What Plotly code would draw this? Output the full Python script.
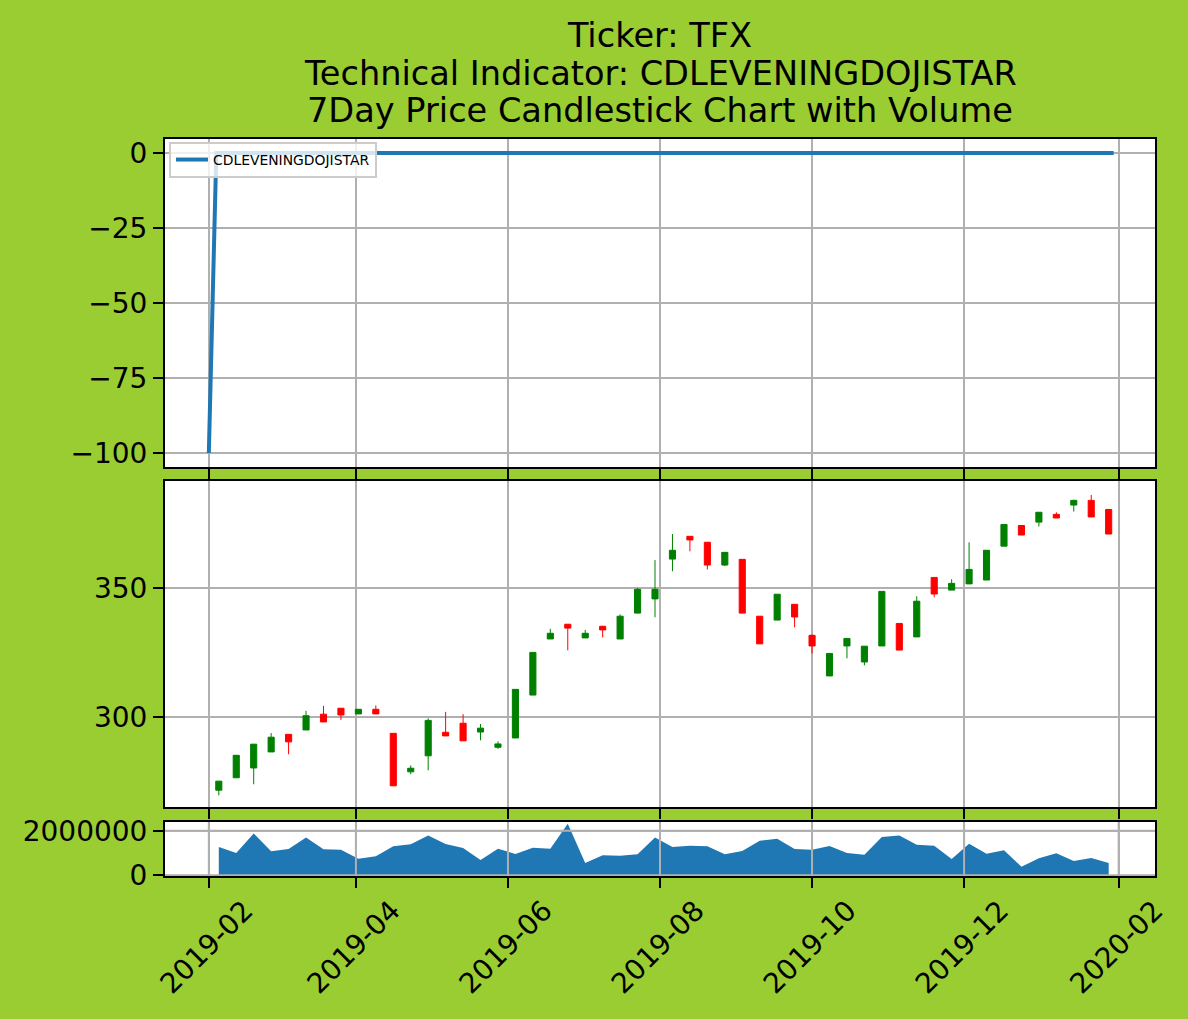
import plotly.graph_objects as go
from datetime import date, timedelta

TITLE_LINES = ["Ticker: TFX", "Technical Indicator: CDLEVENINGDOJISTAR", "7Day Price Candlestick Chart with Volume"]
INDICATOR_NAME = "CDLEVENINGDOJISTAR"

indicator_dates = ["2019-02-01", "2019-02-04", "2019-06-03", "2019-10-01", "2020-01-30"]
indicator_values = [-100, 0, 0, 0, 0]

opens = [271.8, 276.6, 280.4, 286.6, 293.4, 295.1, 301.2, 303.5, 301.3, 303.1, 293.8, 278.9, 285.1,
         294.2, 297.7, 294.3, 288.4, 292.0, 308.6, 330.3, 336.0, 330.7, 335.2, 330.3, 340.3, 345.8,
         361.2, 370.0, 367.7, 358.9, 361.1, 339.1, 337.6, 343.7, 331.7, 316.0, 327.6, 321.4, 327.6,
         336.3, 331.1, 354.1, 349.2, 351.6, 353.1, 366.2, 374.2, 375.5, 378.5, 382.1, 383.9, 380.4]
highs = [275.3, 285.3, 289.6, 293.9, 293.4, 302.5, 304.4, 303.5, 303.1, 304.6, 293.8, 281.4, 299.6,
         302.1, 301.2, 297.4, 290.7, 310.8, 325.1, 334.2, 336.0, 333.8, 335.4, 339.8, 350.0, 360.8,
         370.9, 370.0, 367.7, 363.8, 361.1, 339.1, 347.6, 343.7, 332.1, 324.7, 330.5, 327.5, 348.7,
         336.3, 346.8, 354.1, 353.4, 367.7, 364.6, 374.6, 374.2, 379.3, 379.3, 384.2, 386.0, 380.4]
lows = [269.8, 276.6, 274.1, 286.6, 285.7, 295.1, 298.2, 299.0, 301.3, 301.3, 273.5, 278.0, 279.5,
        292.8, 290.9, 291.1, 287.8, 292.0, 308.6, 330.3, 325.9, 330.7, 330.9, 330.3, 340.3, 338.7,
        356.5, 364.2, 357.2, 358.5, 340.3, 328.4, 337.6, 334.8, 324.7, 316.0, 322.8, 320.1, 327.6,
        326.0, 331.1, 346.4, 349.2, 351.6, 353.1, 366.2, 370.5, 373.8, 377.1, 379.6, 377.5, 370.9]
closes = [275.3, 285.3, 289.6, 292.3, 290.5, 300.6, 298.2, 300.9, 303.1, 301.3, 273.5, 280.3, 298.8,
          292.8, 290.9, 295.8, 289.7, 310.8, 325.1, 332.5, 334.5, 332.5, 333.8, 339.1, 349.5, 349.5,
          364.6, 368.6, 358.9, 363.8, 340.3, 328.4, 347.6, 338.8, 327.6, 324.7, 330.5, 327.5, 348.7,
          326.0, 344.9, 347.7, 351.8, 357.2, 364.6, 374.6, 370.5, 379.3, 377.1, 383.9, 377.5, 370.9]
volumes = [1270000, 1000000, 1880000, 1075000, 1180000, 1700000, 1165000, 1150000, 746000, 850000,
           1300000, 1390000, 1790000, 1400000, 1225000, 687000, 1195000, 955000, 1240000, 1195000,
           2310000, 552000, 895000, 880000, 940000, 1700000, 1270000, 1330000, 1300000, 940000,
           1090000, 1550000, 1640000, 1180000, 1150000, 1310000, 1000000, 925000, 1715000, 1790000,
           1375000, 1330000, 730000, 1420000, 970000, 1120000, 388000, 760000, 985000, 640000,
           775000, 550000]
week_dates = [(date(2019, 2, 5) + timedelta(days=7 * i)).isoformat() for i in range(len(opens))]

x_tick_vals = ["2019-02-01", "2019-04-01", "2019-06-01", "2019-08-01", "2019-10-01", "2019-12-01", "2020-02-01"]
x_tick_text = ["2019-02", "2019-04", "2019-06", "2019-08", "2019-10", "2019-12", "2020-02"]
indicator_ticks = [0, -25, -50, -75, -100]
price_ticks = [350, 300]
volume_ticks = [0, 2000000]

X_RANGE = ["2019-01-14 10:00", "2020-02-15 14:00"]
W, H = 1188, 1019
BG = "#9ACD32"
GRID = "#b0b0b0"


def yd(top, bottom):
    return [1 - bottom / H, 1 - top / H]


fig = go.Figure()
fig.add_trace(go.Scatter(x=indicator_dates, y=indicator_values, mode="lines", name=INDICATOR_NAME,
                         line=dict(color="#1f77b4", width=4), xaxis="x", yaxis="y", showlegend=True))
fig.add_trace(go.Candlestick(x=week_dates, open=opens, high=highs, low=lows, close=closes,
                             increasing=dict(line=dict(color="green", width=1), fillcolor="green"),
                             decreasing=dict(line=dict(color="red", width=1), fillcolor="red"),
                             whiskerwidth=0, xaxis="x2", yaxis="y2", showlegend=False))
fig.add_trace(go.Scatter(x=week_dates, y=volumes, mode="lines", fill="tozeroy", fillcolor="#1f77b4",
                         line=dict(color="#1f77b4", width=0), xaxis="x3", yaxis="y3", showlegend=False))

font = dict(family="DejaVu Sans", size=28, color="black")
axis_common = dict(showline=True, mirror=True, linecolor="black", linewidth=2, ticks="outside",
                   ticklen=10, tickwidth=2, tickcolor="black", showgrid=True, gridcolor=GRID, gridwidth=2,
                   zeroline=False, tickfont=font, automargin=False)
x_common = dict(axis_common, type="date", range=X_RANGE, tickmode="array", tickvals=x_tick_vals,
                ticktext=x_tick_text, domain=[165 / W, 1155 / W])

shapes = []
for tv in x_tick_vals:
    shapes.append(dict(type="line", xref="x3", yref="y3 domain", x0=tv, x1=tv, y0=0, y1=1,
                       line=dict(color=GRID, width=2), layer="above"))
for tv in volume_ticks:
    shapes.append(dict(type="line", xref="x3 domain", yref="y3", x0=0, x1=1, y0=tv, y1=tv,
                       line=dict(color=GRID, width=2), layer="above"))

annotations = []
for text, py in zip(TITLE_LINES[1:], [73, 110]):
    annotations.append(dict(text=text, xref="paper", yref="paper", x=660 / W, y=1 - py / H,
                            xanchor="center", yanchor="middle", showarrow=False,
                            font=dict(family="DejaVu Sans", size=33.6, color="black")))

fig.update_layout(
    width=W, height=H, autosize=False, margin=dict(l=0, r=0, t=0, b=0, pad=0, autoexpand=False),
    paper_bgcolor=BG, plot_bgcolor="white", font=font,
    title=dict(text=TITLE_LINES[0], x=660 / W, xanchor="center", y=1 - 35 / H, yanchor="middle",
               font=dict(family="DejaVu Sans", size=33.6, color="black")),
    annotations=annotations, shapes=shapes,
    legend=dict(x=169 / W, y=1 - 142 / H, xanchor="left", yanchor="top",
                bgcolor="rgba(255,255,255,0.8)", bordercolor="#cccccc", borderwidth=2,
                font=dict(family="DejaVu Sans", size=13.9, color="black"), itemwidth=32),
    xaxis=dict(x_common, anchor="y", showticklabels=False),
    xaxis2=dict(x_common, anchor="y2", showticklabels=False, rangeslider=dict(visible=False)),
    xaxis3=dict(x_common, anchor="y3", showticklabels=True, tickangle=-45, ticklabelshift=36,
                ticklabelstandoff=-5),
    yaxis=dict(axis_common, domain=yd(139, 467), range=[-104.67, 4.67], tickmode="array", tickvals=indicator_ticks),
    yaxis2=dict(axis_common, domain=yd(481, 807), range=[265.3, 391.4], tickmode="array", tickvals=price_ticks),
    yaxis3=dict(axis_common, domain=yd(822, 876), range=[-31000, 2390000], tickmode="array",
                tickvals=volume_ticks, tickformat="d"),
    boxgap=0.5, showlegend=True,
)

fig.write_html("out.html", config=dict(displayModeBar=False),
               post_script="document.body.style.margin='0';document.body.style.overflow='hidden';")
